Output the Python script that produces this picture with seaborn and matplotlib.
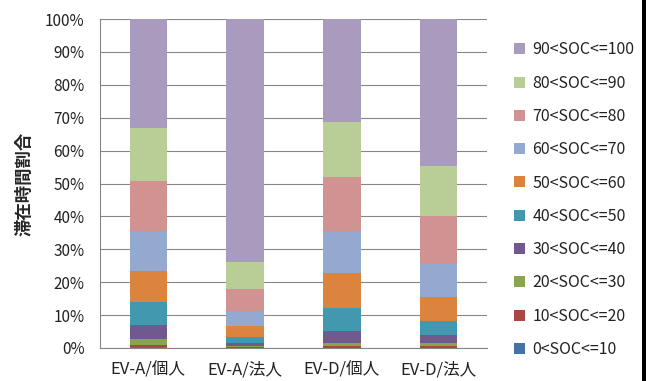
import matplotlib
matplotlib.use("Agg")
import matplotlib.pyplot as plt
import seaborn as sns
import numpy as np
from matplotlib.patches import Patch, Rectangle
from matplotlib.ticker import FixedLocator, PercentFormatter

categories = ["EV-A/個人", "EV-A/法人", "EV-D/個人", "EV-D/法人"]
soc_labels = ["0<SOC<=10", "10<SOC<=20", "20<SOC<=30", "30<SOC<=40", "40<SOC<=50",
              "50<SOC<=60", "60<SOC<=70", "70<SOC<=80", "80<SOC<=90", "90<SOC<=100"]
soc_0_10 = [0.2, 0.1, 0.1, 0.1]
soc_10_20 = [0.6, 0.2, 0.4, 0.5]
soc_20_30 = [1.9, 0.4, 1.1, 0.8]
soc_30_40 = [4.4, 0.9, 3.6, 2.4]
soc_40_50 = [7.0, 1.8, 6.9, 4.3]
soc_50_60 = [9.4, 3.4, 10.8, 7.3]
soc_60_70 = [12.2, 4.4, 12.8, 10.1]
soc_70_80 = [15.1, 6.6, 16.4, 14.5]
soc_80_90 = [16.1, 8.3, 16.6, 15.4]
soc_90_100 = [33.1, 73.9, 31.3, 44.6]
series = [soc_0_10, soc_10_20, soc_20_30, soc_30_40, soc_40_50,
          soc_50_60, soc_60_70, soc_70_80, soc_80_90, soc_90_100]
colors = ["#4572A7", "#AA4643", "#89A54E", "#71588F", "#4198AF",
          "#DB843D", "#93A9CF", "#D19392", "#B9CD96", "#A99BBD"]
y_ticks = [0, 10, 20, 30, 40, 50, 60, 70, 80, 90, 100]

sns.set_style("white")
plt.rcParams["font.family"] = ["Noto Sans CJK JP", "DejaVu Sans"]

fig = plt.figure(figsize=(6.5, 3.81), dpi=100)
ax = fig.add_axes([100/650, 1-348/381, 387/650, 329/381])

grid_c = "#868686"
ax.set_axisbelow(True)
for yv in y_ticks:
    ax.axhline(yv, color=grid_c, lw=0.8, zorder=0)

bottom = np.zeros(len(categories))
for vals, col in zip(series, colors):
    sns.barplot(x=categories, y=vals, bottom=bottom, color=col, width=0.39,
                saturation=1, linewidth=0, ax=ax, zorder=2)
    bottom = bottom + np.array(vals)

ax.set_ylim(0, 100)
ax.set_xlim(-0.5, 3.5)
ax.yaxis.set_major_locator(FixedLocator(y_ticks))
ax.yaxis.set_major_formatter(PercentFormatter(decimals=0))
ax.set_xticks(range(len(categories)))
ax.set_xticklabels(categories)
ax.set_xticks(np.arange(-0.5, 4.0, 1.0), minor=True)
ax.tick_params(axis="x", which="major", length=0, pad=10, labelsize=12, labelcolor="#222222")
ax.tick_params(axis="x", which="minor", length=5, color=grid_c, width=0.8, direction="out")
ax.tick_params(axis="y", which="major", length=8, color=grid_c, width=0.8, direction="out",
               pad=3, labelsize=11, labelcolor="#222222")
for s in ["top", "right"]:
    ax.spines[s].set_visible(False)
for s in ["left", "bottom"]:
    ax.spines[s].set_color(grid_c)
    ax.spines[s].set_linewidth(0.8)
ax.set_xlabel("")
ax.set_ylabel("滞在時間割合", fontsize=12.5, fontweight="bold", labelpad=8)

handles = [Patch(facecolor=c, edgecolor="none", label=l) for c, l in zip(colors, soc_labels)]
handles = handles[::-1]
fig.legend(handles=handles, loc="upper left", bbox_to_anchor=(508/650, 1-35/381),
           frameon=False, fontsize=11.5, handlelength=0.68, handleheight=0.68,
           handletextpad=0.45, labelspacing=1.02, borderaxespad=0, labelcolor="#222222")

fig.patches.append(Rectangle((642/650, 0), 4/650, 1, transform=fig.transFigure,
                             facecolor="black", edgecolor="none"))

fig.savefig("out.png", dpi=100)
